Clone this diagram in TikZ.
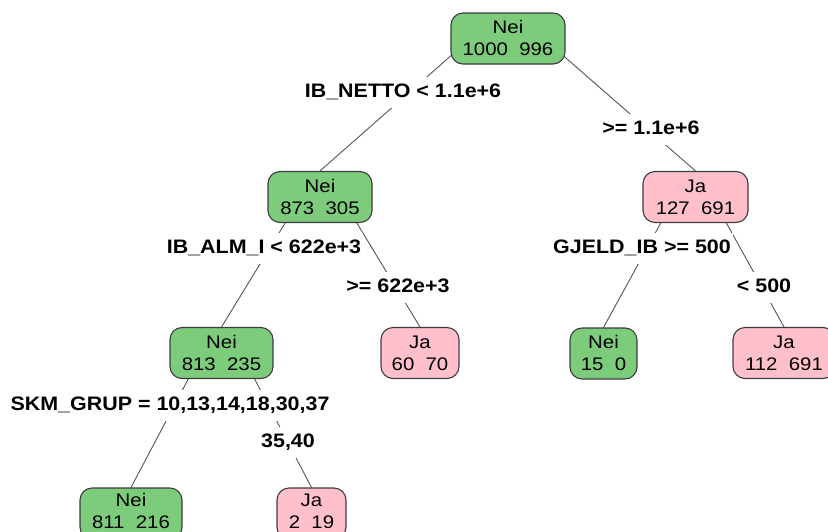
\documentclass[tikz,border=0pt]{standalone}
\usepackage{fontspec}
\setmainfont{Liberation Sans}
\newfontfamily\nodefont[FakeStretch=1.12]{Liberation Sans}
\newfontfamily\lblfont[FakeStretch=1.1]{Liberation Sans}
\usetikzlibrary{backgrounds,calc}
\definecolor{nodegreen}{RGB}{124,204,124}
\definecolor{nodepink}{RGB}{255,192,203}
\definecolor{bordergray}{RGB}{60,60,60}
\definecolor{edgegray}{RGB}{85,85,85}
\newcommand{\nlines}[3][-2pt]{\raisebox{#1}[\height][\depth]{\begin{tabular}{@{}c@{}}#2\\#3\end{tabular}}}
\tikzset{
  leaf/.style={draw=bordergray, line width=1.1pt, rounded corners=12pt,
    minimum height=51pt, inner xsep=3pt, inner ysep=2pt,
    font=\nodefont\fontsize{18.2}{22}\selectfont},
  neinode/.style={leaf, fill=nodegreen},
  janode/.style={leaf, fill=nodepink},
  splitlbl/.style={fill=white, inner xsep=2pt, inner ysep=6.5pt,
    text height=14pt, text depth=4pt,
    font=\lblfont\bfseries\fontsize{19.5}{22}\selectfont},
  branch/.style={draw=edgegray, line width=0.9pt}
}
\begin{document}
\begin{tikzpicture}[x=1pt,y=-1pt]
\useasboundingbox (0,0) rectangle (828,531);
\clip (0,0) rectangle (828,531);
% nodes
\node[neinode, minimum width=114pt] (root) at (508,38.5) {\nlines{Nei}{1000~~996}};
\node[neinode, minimum width=104pt] (n2) at (320,197) {\nlines{Nei}{873~~305}};
\node[janode, minimum width=105pt] (n3) at (695.5,197) {\nlines{Ja}{127~~691}};
\node[neinode, minimum width=103pt] (n4) at (221.5,353) {\nlines{Nei}{813~~235}};
\node[janode, minimum width=78pt] (n5) at (420,353) {\nlines{Ja}{60~~70}};
\node[neinode, minimum width=67pt] (n6) at (603.5,353.5) {\nlines{Nei}{15~~0}};
\node[janode, minimum width=102pt] (n7) at (784,353) {\nlines{Ja}{112~~691}};
\node[neinode, minimum width=102pt] (n8) at (131,513.5) {\nlines[0.5pt]{Nei}{811~~216}};
\node[janode, minimum width=69pt] (n9) at (311.5,513.5) {\nlines[0.5pt]{Ja}{2~~19}};
% branches
\begin{pgfonlayer}{background}
\draw[branch] ($(root.center)+(-37.5,0)$) -- (n2.north);
\draw[branch] ($(root.center)+(35.5,0)$) -- (n3.north);
\draw[branch] ($(n2.center)+(-19,0)$) -- (n4.north);
\draw[branch] ($(n2.center)+(21,0)$) -- (n5.north);
\draw[branch] ($(n3.center)+(-20.5,0)$) -- (n6.north);
\draw[branch] ($(n3.center)+(16.5,0)$) -- (n7.north);
\draw[branch] ($(n4.center)+(-19.5,0)$) -- (n8.north);
\draw[branch] ($(n4.center)+(19.5,0)$) -- (n9.north);
\end{pgfonlayer}
% split labels
\node[splitlbl] (l1) at (403,92) {IB\_NETTO < 1.1e+6};
\node[splitlbl] (l2) at (651,129.5) {>= 1.1e+6};
\node[splitlbl] (l3) at (264,248) {IB\_ALM\_I < 622e+3};
\node[splitlbl] (l4) at (398,287) {>= 622e+3};
\node[splitlbl] (l5) at (642,248) {GJELD\_IB >= 500};
\node[splitlbl] (l6) at (764,287) {< 500};
\node[splitlbl] (l7) at (170,405) {SKM\_GRUP = 10,13,14,18,30,37};
\node[splitlbl] (l8) at (288,442) {35,40};
\end{tikzpicture}
\end{document}
